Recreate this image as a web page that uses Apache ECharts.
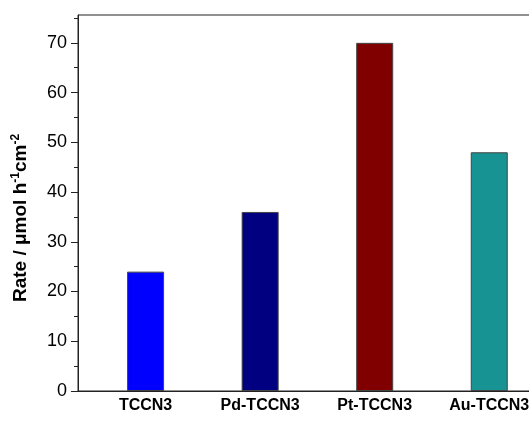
<!DOCTYPE html>
<html>
<head>
<meta charset="utf-8">
<script src="https://cdn.jsdelivr.net/npm/echarts@6/dist/echarts.min.js"></script>
<style>
  html, body { margin: 0; padding: 0; background: #fff; }
  #chart { width: 529px; height: 423px; }
</style>
</head>
<body>
<div id="chart"></div>
<script>
// Photocatalytic rate of each sample
const categories = ['TCCN3', 'Pd-TCCN3', 'Pt-TCCN3', 'Au-TCCN3'];
const rates = [24, 36, 70, 48];
const barColors = ['#0000ff', '#000080', '#800000', '#189393'];
const majorTicks = [0, 10, 20, 30, 40, 50, 60, 70];
const minorTicks = [5, 15, 25, 35, 45, 55, 65, 75];

const positions = categories.map((_, i) => i + 1);
const font = 'Arial, "Liberation Sans", sans-serif';

const chart = echarts.init(document.getElementById('chart'), null, { renderer: 'canvas' });

chart.setOption({
  backgroundColor: '#fff',
  animation: false,
  grid: {
    left: 78, top: 15, width: 480, height: 376,
    outerBoundsMode: 'none',
    containLabel: false,
    show: true, borderColor: '#222', borderWidth: 1, backgroundColor: 'transparent'
  },
  xAxis: {
    type: 'value',
    min: 0.41, max: 4.6,
    splitLine: { show: false },
    axisLine: { show: true, lineStyle: { color: '#222', width: 1 } },
    axisTick: { show: false },
    axisLabel: {
      customValues: positions,
      formatter: v => categories[Math.round(v) - 1] || '',
      color: '#000', fontFamily: font, fontWeight: 'bold', fontSize: 16, margin: 7
    }
  },
  yAxis: [
    {
      type: 'value', min: 0, max: 75.6, position: 'left', offset: 0,
      splitLine: { show: false },
      axisLine: { show: true, onZero: false, lineStyle: { color: '#222', width: 1 } },
      axisTick: { show: true, inside: false, length: 7, customValues: majorTicks, lineStyle: { color: '#222' } },
      axisLabel: { customValues: majorTicks, color: '#000', fontFamily: font, fontSize: 18, margin: 11 },
      name: '{b|Rate / μmol h}{s|-1}{b|cm}{s|-2}',
      nameLocation: 'middle',
      nameGap: 46,
      nameTextStyle: {
        padding: [0, 30, 0, 0],
        rich: {
          b: { fontFamily: font, fontWeight: 'bold', fontSize: 19, color: '#000' },
          s: { fontFamily: font, fontWeight: 'bold', fontSize: 12, color: '#000', verticalAlign: 'top', padding: [0, 0, 10, 0] }
        }
      }
    },
    {
      type: 'value', min: 0, max: 75.6, position: 'left', offset: 0,
      splitLine: { show: false },
      axisLine: { show: false },
      axisTick: { show: true, inside: false, length: 4, customValues: minorTicks, lineStyle: { color: '#222' } },
      axisLabel: { show: false }
    }
  ],
  series: [{
    type: 'bar',
    yAxisIndex: 0,
    barWidth: 37,
    data: rates.map((v, i) => ({
      value: [positions[i], v],
      itemStyle: { color: barColors[i], borderColor: '#444', borderWidth: 1 }
    }))
  }]
});
</script>
</body>
</html>
